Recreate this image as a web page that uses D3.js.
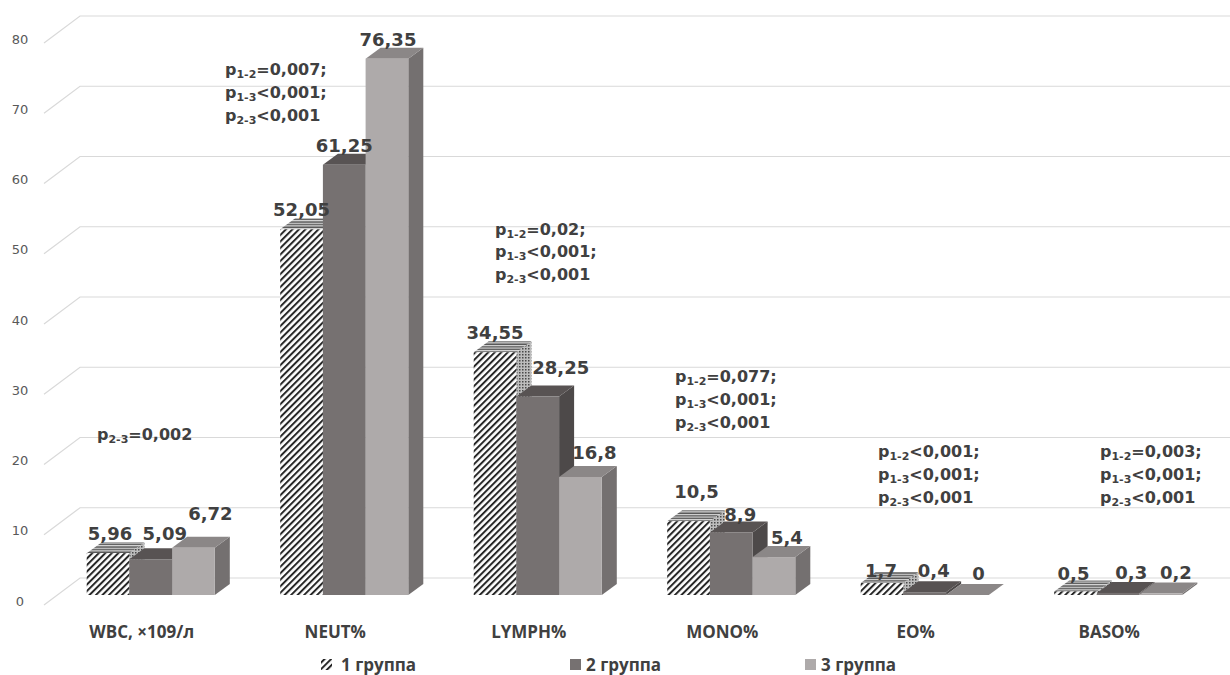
<!DOCTYPE html>
<html>
<head>
<meta charset="utf-8">
<script src="https://cdn.jsdelivr.net/npm/d3@7"></script>
<style>
  body { margin: 0; background: #fff; }
</style>
</head>
<body>
<div id="chart"></div>
<script>
var categories = ["WBC, ×109/л", "NEUT%", "LYMPH%", "MONO%", "EO%", "BASO%"];
var groups = ["1 группа", "2 группа", "3 группа"];
var group1 = [5.96, 52.05, 34.55, 10.5, 1.7, 0.5];
var group2 = [5.09, 61.25, 28.25, 8.9, 0.4, 0.3];
var group3 = [6.72, 76.35, 16.8, 5.4, 0, 0.2];
var yTicks = [0, 10, 20, 30, 40, 50, 60, 70, 80];

// p-values: [subscript, rest] per line
var pNotes = [
  [["2-3", "=0,002"]],
  [["1-2", "=0,007;"], ["1-3", "<0,001;"], ["2-3", "<0,001"]],
  [["1-2", "=0,02;"], ["1-3", "<0,001;"], ["2-3", "<0,001"]],
  [["1-2", "=0,077;"], ["1-3", "<0,001;"], ["2-3", "<0,001"]],
  [["1-2", "<0,001;"], ["1-3", "<0,001;"], ["2-3", "<0,001"]],
  [["1-2", "=0,003;"], ["1-3", "<0,001;"], ["2-3", "<0,001"]]
];

var series = [group1, group2, group3];

var width = 1230, height = 675;
var depthX = 15, depthY = -11;

var svg = d3.select("#chart").append("svg")
    .attr("width", width)
    .attr("height", height);

var defs = svg.append("defs");

var pf = defs.append("pattern")
    .attr("id", "hatchFront")
    .attr("patternUnits", "userSpaceOnUse")
    .attr("width", 4.6).attr("height", 10)
    .attr("patternTransform", "rotate(45)");
pf.append("rect").attr("width", 4.6).attr("height", 10).attr("fill", "#fff");
pf.append("line").attr("x1", 1).attr("y1", 0).attr("x2", 1).attr("y2", 10)
    .attr("stroke", "#262626").attr("stroke-width", 2);

var pt = defs.append("pattern")
    .attr("id", "hatchTop")
    .attr("patternUnits", "userSpaceOnUse")
    .attr("width", 10).attr("height", 2.6);
pt.append("rect").attr("width", 10).attr("height", 2.6).attr("fill", "#ddd");
pt.append("line").attr("x1", 0).attr("y1", 1).attr("x2", 10).attr("y2", 1)
    .attr("stroke", "#4a4a4a").attr("stroke-width", 1.3);

var ps = defs.append("pattern")
    .attr("id", "hatchSide")
    .attr("patternUnits", "userSpaceOnUse")
    .attr("width", 3).attr("height", 3);
ps.append("rect").attr("width", 3).attr("height", 3).attr("fill", "#bdbdbd");
ps.append("rect").attr("width", 1.5).attr("height", 1.5).attr("fill", "#4a4a4a");

var faces = [
  { front: "url(#hatchFront)", top: "url(#hatchTop)", side: "url(#hatchSide)" },
  { front: "#767171", top: "#585353", side: "#4d4949" },
  { front: "#aeaaaa", top: "#8b8787", side: "#747070" }
];

var y = d3.scaleLinear()
    .domain([0, 80])
    .range([595, 33]);

var x0 = d3.scaleBand()
    .domain(categories)
    .range([54, 1215]);

var x1 = d3.scaleBand()
    .domain(groups)
    .range([0, x0.bandwidth()])
    .paddingInner(0)
    .paddingOuter(0.766);

// gridlines (floor diagonal + back wall)
var grid = svg.append("g");
yTicks.forEach(function(t) {
  grid.append("path")
      .attr("d", "M44," + (y(t) + 10) + "L80," + (y(t) - 17) + "L" + width + "," + (y(t) - 17))
      .attr("fill", "none")
      .attr("stroke", "#d9d9d9")
      .attr("stroke-width", 1.2);
});

var yAxis = d3.axisLeft(y).tickValues(yTicks).tickSize(0).tickPadding(0);
var ya = svg.append("g")
    .attr("transform", "translate(30,6)")
    .call(yAxis);
ya.select(".domain").remove();
ya.selectAll("text")
    .attr("text-anchor", "middle")
    .attr("x", -10)
    .style("font-family", "DejaVu Sans")
    .style("font-size", "13px")
    .style("fill", "#595959");

function fmt(v) { return String(v).replace(".", ","); }

// bars
var bars = svg.append("g");
categories.forEach(function(c, ci) {
  groups.forEach(function(g, gi) {
    var v = series[gi][ci];
    var xl = x0(c) + x1(g), w = x1.bandwidth();
    var yt = y(v), yb = y(0);
    var f = faces[gi];
    bars.append("path")
        .attr("d", "M" + (xl + w) + "," + yt + "L" + (xl + w + depthX) + "," + (yt + depthY) +
             "L" + (xl + w + depthX) + "," + (yb + depthY) + "L" + (xl + w) + "," + yb + "Z")
        .attr("fill", f.side);
    bars.append("path")
        .attr("d", "M" + xl + "," + yt + "L" + (xl + depthX) + "," + (yt + depthY) +
             "L" + (xl + w + depthX) + "," + (yt + depthY) + "L" + (xl + w) + "," + yt + "Z")
        .attr("fill", f.top);
    bars.append("rect")
        .attr("x", xl).attr("y", yt)
        .attr("width", w).attr("height", yb - yt)
        .attr("fill", f.front);
  });
});

// value labels; small nudges [dx, dy] per group/category, like the original's collision moves
var labelNudge = [
  [[2, 0], [0, 0], [0, 0], [8, -10], [-1, 7], [-2, 1.5]],
  [[14, -6], [0, 0], [23, -10], [9, 2], [9, -2], [13, -1]],
  [[17, -15], [1, 0], [14, -5], [13, 0], [11, -2], [15, -2]]
];
categories.forEach(function(c, ci) {
  groups.forEach(function(g, gi) {
    var v = series[gi][ci];
    var n = labelNudge[gi][ci];
    svg.append("text")
        .attr("x", x0(c) + x1(g) + x1.bandwidth() / 2 + n[0])
        .attr("y", y(v) + depthY - 2 + n[1])
        .attr("text-anchor", "middle")
        .style("font-family", "DejaVu Sans")
        .style("font-weight", "bold")
        .style("font-size", "18px")
        .style("fill", "#404040")
        .text(fmt(v));
  });
});

// category labels
categories.forEach(function(c) {
  svg.append("text")
      .attr("x", x0(c) + x0.bandwidth() / 2 - 9)
      .attr("y", 638)
      .attr("text-anchor", "middle")
      .style("font-family", "Open Sans")
      .style("font-weight", "bold")
      .style("font-size", "17px")
      .style("fill", "#404040")
      .text(c);
});

// p-value notes: [x offset from band start, level in axis units]
var noteAt = [[43, 22.8], [-22.5, 74.7], [54, 52], [40.5, 31], [50, 20.3], [78.5, 20.3]];
pNotes.forEach(function(lines, ci) {
  var nx = x0(categories[ci]) + noteAt[ci][0];
  var ny = y(noteAt[ci][1]);
  lines.forEach(function(l, li) {
    var t = svg.append("text")
        .attr("x", nx)
        .attr("y", ny + li * 22.7 + 5)
        .style("font-family", "DejaVu Sans")
        .style("font-weight", "bold")
        .style("font-size", "16px")
        .style("fill", "#404040");
    t.append("tspan").text("p");
    t.append("tspan").attr("dy", 3).style("font-size", "11px").text(l[0]);
    t.append("tspan").attr("dy", -3).text(l[1]);
  });
});

// legend
var legendX = [321, 570, 805];
var legend = svg.append("g");
groups.forEach(function(g, gi) {
  legend.append("rect")
      .attr("x", legendX[gi]).attr("y", 659)
      .attr("width", 11).attr("height", 11)
      .attr("fill", gi === 0 ? "url(#hatchFront)" : faces[gi].front);
  legend.append("text")
      .attr("x", legendX[gi] + (gi === 0 ? 20 : 16))
      .attr("y", 671)
      .style("font-family", "Open Sans")
      .style("font-weight", "bold")
      .style("font-size", "17px")
      .style("fill", "#404040")
      .text(g);
});
</script>
</body>
</html>
